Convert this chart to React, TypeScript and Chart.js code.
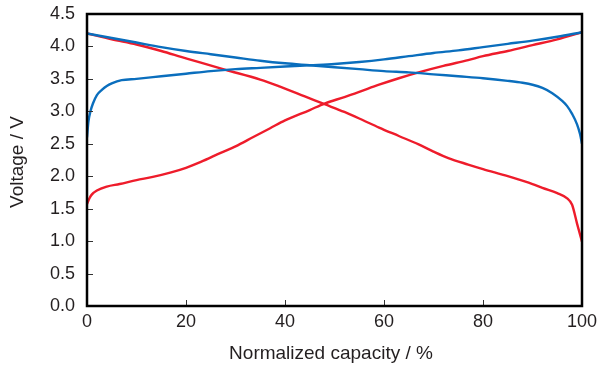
import React, { useEffect, useRef } from "react";
import { Chart, registerables } from "chart.js";

Chart.register(...registerables);

// Blue charge (rising)
const blueChargeX = [0, 0.3, 0.7, 1.2, 2, 3, 4, 5, 7, 10, 15, 20, 25, 30, 35, 40, 45, 50, 55, 60, 65, 70, 75, 80, 85, 90, 95, 100];
const blueChargeY = [2.6, 2.85, 3.0, 3.12, 3.25, 3.33, 3.39, 3.43, 3.48, 3.5, 3.54, 3.58, 3.62, 3.65, 3.67, 3.69, 3.71, 3.73, 3.76, 3.8, 3.85, 3.9, 3.94, 3.99, 4.04, 4.09, 4.15, 4.22];

// Blue discharge (falling)
const blueDischargeX = [0, 5, 10, 15, 20, 25, 30, 35, 40, 45, 50, 55, 60, 65, 70, 75, 80, 85, 88, 90, 92, 94, 96, 97, 98, 99, 99.6, 100];
const blueDischargeY = [4.2, 4.13, 4.06, 3.99, 3.93, 3.88, 3.83, 3.78, 3.74, 3.71, 3.68, 3.65, 3.62, 3.6, 3.57, 3.54, 3.51, 3.47, 3.44, 3.41, 3.36, 3.28, 3.16, 3.08, 2.96, 2.8, 2.65, 2.5];

// Red charge (rising)
const redChargeX = [0, 0.5, 1, 2, 4, 6.6, 10, 13.3, 17, 20, 23, 27, 30, 33.5, 37, 40, 45, 48, 52, 55, 59, 63, 67, 72, 77, 80, 85, 90, 95, 100];
const redChargeY = [1.57, 1.66, 1.72, 1.78, 1.84, 1.88, 1.94, 1.99, 2.06, 2.13, 2.22, 2.36, 2.46, 2.6, 2.74, 2.86, 3.02, 3.12, 3.22, 3.3, 3.41, 3.51, 3.6, 3.7, 3.79, 3.85, 3.93, 4.02, 4.11, 4.22];

// Red discharge (falling)
const redDischargeX = [0, 5, 10, 15, 19, 23, 28, 35, 39, 44, 48, 52, 55, 59, 63, 67, 70, 73, 77, 80, 85, 90, 92, 95, 97, 98, 99, 100];
const redDischargeY = [4.2, 4.11, 4.03, 3.93, 3.84, 3.75, 3.64, 3.49, 3.38, 3.23, 3.11, 2.99, 2.89, 2.75, 2.62, 2.49, 2.38, 2.28, 2.18, 2.11, 2.0, 1.88, 1.82, 1.74, 1.66, 1.56, 1.27, 0.99];

const xTicks = [0, 20, 40, 60, 80, 100];
const yTicks = [0, 0.5, 1, 1.5, 2, 2.5, 3, 3.5, 4, 4.5];

const xTitle = "Normalized capacity / %";
const yTitle = "Voltage / V";

const BLUE = "#0a6ebd";
const RED = "#ee1c2b";
const TEXT = "#231f20";
const FONT = "'Liberation Sans', Arial, sans-serif";

const pts = (xs: number[], ys: number[]) => xs.map((x, i) => ({ x, y: ys[i] }));

const zeroPad = (s: any) => {
  s.paddingTop = 0;
  s.paddingBottom = 0;
  s.paddingLeft = 0;
  s.paddingRight = 0;
};

export default function App() {
  const ref = useRef<HTMLCanvasElement | null>(null);

  useEffect(() => {
    document.body.style.margin = "0";
    const canvas = ref.current;
    if (!canvas) return;

    const framePlugin = {
      id: "frame",
      afterDraw(chart: any) {
        const { ctx, chartArea } = chart;
        const { left, right, top, bottom } = chartArea;
        const xs = chart.scales.x;
        const ys = chart.scales.y;
        ctx.save();
        // inward tick marks
        ctx.strokeStyle = "#333";
        ctx.lineWidth = 1;
        ctx.beginPath();
        xTicks.forEach((t) => {
          const px = Math.round(xs.getPixelForValue(t)) + 0.5;
          ctx.moveTo(px, bottom);
          ctx.lineTo(px, bottom - 6);
        });
        yTicks.forEach((t) => {
          const py = Math.round(ys.getPixelForValue(t)) + 0.5;
          ctx.moveTo(left, py);
          ctx.lineTo(left + 6, py);
        });
        ctx.stroke();
        // frame
        ctx.strokeStyle = "#000";
        ctx.lineWidth = 2.5;
        ctx.strokeRect(left, top, right - left, bottom - top);
        // titles
        ctx.fillStyle = TEXT;
        ctx.font = `19px ${FONT}`;
        ctx.textAlign = "center";
        ctx.textBaseline = "middle";
        ctx.fillText(xTitle, 331, 354);
        ctx.translate(18, 162);
        ctx.rotate(-Math.PI / 2);
        ctx.fillText(yTitle, 0, 0);
        ctx.restore();
      },
    };

    const line = (xs: number[], ys: number[], color: string) => ({
      data: pts(xs, ys),
      borderColor: color,
      backgroundColor: color,
      borderWidth: 2.4,
      pointRadius: 0,
      fill: false,
      cubicInterpolationMode: "monotone" as const,
    });

    const chart = new Chart(canvas, {
      type: "line",
      data: {
        datasets: [
          line(blueChargeX, blueChargeY, BLUE),
          line(blueDischargeX, blueDischargeY, BLUE),
          line(redChargeX, redChargeY, RED),
          line(redDischargeX, redDischargeY, RED),
        ],
      },
      options: {
        animation: false,
        responsive: false,
        maintainAspectRatio: false,
        layout: { padding: { left: 0, right: 15, top: 14, bottom: 0 } },
        plugins: { legend: { display: false }, tooltip: { enabled: false } },
        scales: {
          x: {
            type: "linear",
            min: 0,
            max: 100,
            grid: { display: false, drawTicks: false },
            border: { display: false },
            afterFit: (s: any) => { s.height = 62; zeroPad(s); },
            afterBuildTicks: (s: any) => { s.ticks = xTicks.map((v) => ({ value: v })); },
            ticks: {
              padding: 5,
              color: TEXT,
              font: { family: FONT, size: 18 },
              maxRotation: 0,
              callback: (v: any) => String(v),
            },
          },
          y: {
            type: "linear",
            min: 0,
            max: 4.5,
            grid: { display: false, drawTicks: false },
            border: { display: false },
            afterFit: (s: any) => { s.width = 87; zeroPad(s); },
            afterBuildTicks: (s: any) => { s.ticks = yTicks.map((v) => ({ value: v })); },
            ticks: {
              padding: 12,
              color: TEXT,
              font: { family: FONT, size: 18 },
              callback: (v: any) => Number(v).toFixed(1),
            },
          },
        },
      },
      plugins: [framePlugin],
    });

    return () => chart.destroy();
  }, []);

  return (
    <div style={{ width: 597, height: 368, background: "#fff" }}>
      <canvas ref={ref} width={597} height={368} style={{ display: "block", width: 597, height: 368 }} />
    </div>
  );
}
